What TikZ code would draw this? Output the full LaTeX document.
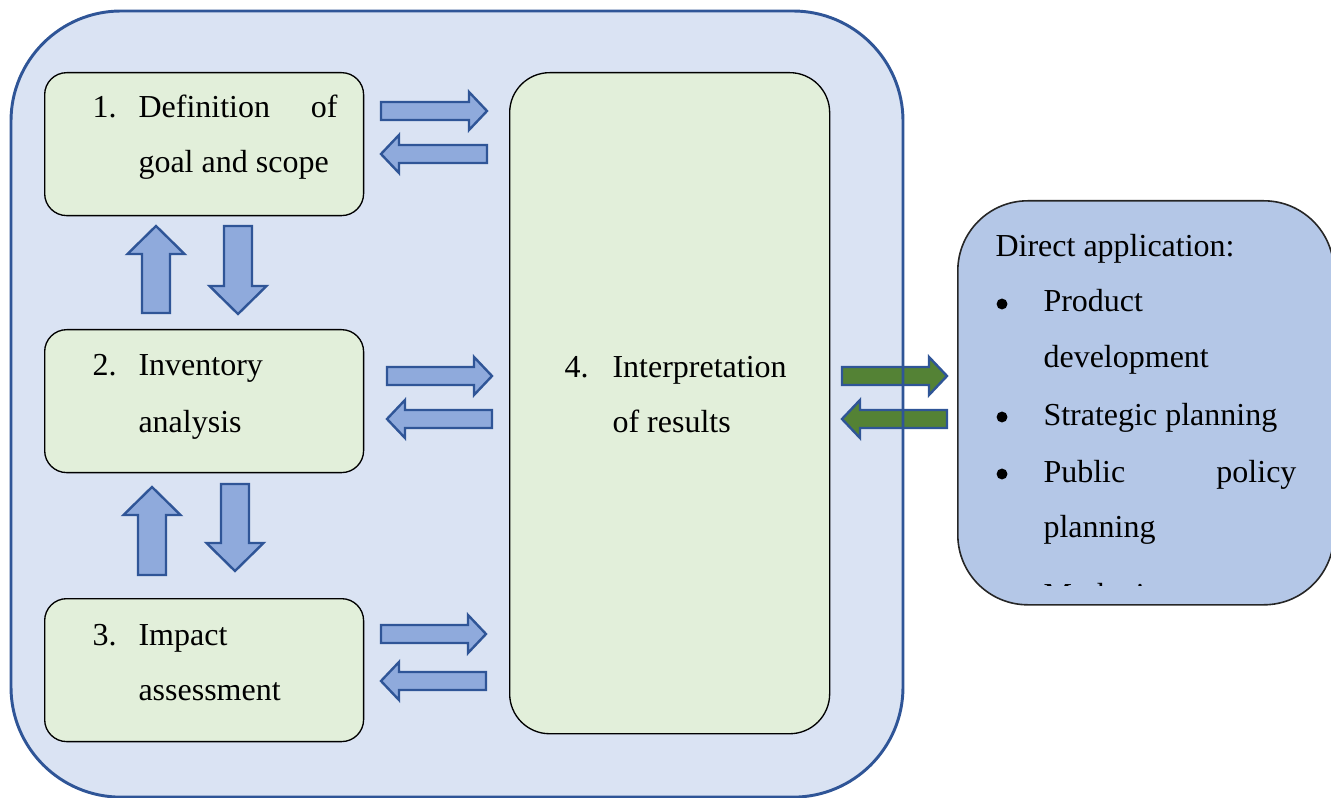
\documentclass[tikz,border=0pt]{standalone}
\usepackage{fontspec}
\setmainfont{Liberation Serif}
\usetikzlibrary{calc}
\definecolor{outerfill}{HTML}{DAE3F3}
\definecolor{outerline}{HTML}{2F5597}
\definecolor{boxfill}{HTML}{E2EFDA}
\definecolor{appfill}{HTML}{B4C7E7}
\definecolor{arrowfill}{HTML}{8FAADC}
\definecolor{greenfill}{HTML}{548235}
% style, from, to, shaft half width, head half width, head length
\newcommand\blockarrow[6]{%
  \coordinate (tmpH) at ($(#3)!#6!(#2)$);
  \draw[#1] ($(#2)!#4!90:(#3)$) -- ($(tmpH)!#4!90:(#3)$) -- ($(tmpH)!#5!90:(#3)$)
    -- (#3) -- ($(tmpH)!#5!-90:(#3)$) -- ($(tmpH)!#4!-90:(#3)$) -- ($(#2)!#4!-90:(#3)$) -- cycle;
}
\newcommand\harrow[3]{\blockarrow{#1}{#2}{#3}{3.375pt}{7.125pt}{6.75pt}}
\newcommand\varrow[3]{\blockarrow{#1}{#2}{#3}{5.25pt}{10.69pt}{10.5pt}}
\tikzset{
  stage/.style={draw=black, line width=0.5pt, fill=boxfill, rounded corners=8.25pt,
    anchor=north west, inner sep=0pt},
  outerbox/.style={fill=outerfill, rounded corners=41.25pt, anchor=north west, inner sep=0pt},
  appbox/.style={draw=black!85, line width=0.6pt, fill=appfill, rounded corners=26.25pt,
    anchor=north west, inner sep=0pt},
  bluearr/.style={fill=arrowfill, draw=outerline, line width=0.9pt, line join=miter},
  greenarr/.style={fill=greenfill, draw=outerline, line width=0.9pt, line join=miter},
  txt/.style={anchor=base west, inner sep=0pt},
  txtr/.style={anchor=base east, inner sep=0pt},
  bulletdot/.style={circle, fill=black, inner sep=0pt, minimum size=4.1pt},
}
\begin{document}
\begin{tikzpicture}[x=0.375pt, y=-0.375pt, font=\fontsize{12pt}{14pt}\selectfont]
\useasboundingbox (0,0) rectangle (1331,798);
% outer frame
\node[outerbox, minimum width=334.1pt, minimum height=294.4pt] (outer) at (11,11) {};
% green arrows (under the frame border)
\coordinate (g1s) at (842,376); \coordinate (g1e) at (947,376);
\coordinate (g2s) at (947,419); \coordinate (g2e) at (842,419);
\harrow{greenarr}{g1s}{g1e}
\harrow{greenarr}{g2s}{g2e}
\draw[outerline, line width=1.1pt, rounded corners=41.25pt] (outer.north west) rectangle (outer.south east);
% stage boxes
\node[stage, minimum width=119.6pt, minimum height=53.6pt] (b1) at (44,72) {};
\node[stage, minimum width=119.6pt, minimum height=53.6pt] (b2) at (44,329) {};
\node[stage, minimum width=119.6pt, minimum height=53.6pt] (b3) at (44,598) {};
\node[stage, minimum width=120pt, minimum height=247.9pt, rounded corners=15pt] (b4) at (509,72) {};
% application box
\node[appbox, minimum width=141pt, minimum height=151.5pt] (app) at (957,200) {};
% texts
\node[txt] (t1n) at (92,118) {1.};
\node[txt] (t1a) at (138,118) {Definition};
\node[txtr] (t1b) at (338,118) {of};
\node[txt] (t1c) at (138,173) {goal and scope};
\node[txt] (t2n) at (92,376) {2.};
\node[txt] (t2a) at (138,376) {Inventory};
\node[txt] (t2b) at (138,432) {analysis};
\node[txt] (t3n) at (92,645) {3.};
\node[txt] (t3a) at (138,645) {Impact};
\node[txt] (t3b) at (138,700) {assessment};
\node[txt] (t4n) at (564,377) {4.};
\node[txt] (t4a) at (612,377) {Interpretation};
\node[txt] (t4b) at (612,432) {of results};
\node[txt] (ta0) at (995,257) {Direct application:};
\node[bulletdot] (tb1) at (1002,304) {};
\node[txt] (ta1) at (1043,312) {Product};
\node[txt] (ta2) at (1043,368) {development};
\node[bulletdot] (tb2) at (1002,417) {};
\node[txt] (ta3) at (1043,425) {Strategic planning};
\node[bulletdot] (tb3) at (1002,474) {};
\node[txt] (ta4) at (1043,482) {Public};
\node[txtr] (ta5) at (1297,482) {policy};
\node[txt] (ta6) at (1043,537) {planning};
\begin{scope}
  \clip (957,560) rectangle (1331,585);
  \node[txt] (ta7) at (1043,605) {Marketing};
\end{scope}
% horizontal arrows
\coordinate (h1s) at (381,111); \coordinate (h1e) at (487,111);
\coordinate (h2s) at (487,154); \coordinate (h2e) at (381,154);
\coordinate (h3s) at (387,376); \coordinate (h3e) at (492,376);
\coordinate (h4s) at (492,419); \coordinate (h4e) at (387,419);
\coordinate (h5s) at (381,634); \coordinate (h5e) at (486,634);
\coordinate (h6s) at (486,681); \coordinate (h6e) at (381,681);
\harrow{bluearr}{h1s}{h1e}
\harrow{bluearr}{h2s}{h2e}
\harrow{bluearr}{h3s}{h3e}
\harrow{bluearr}{h4s}{h4e}
\harrow{bluearr}{h5s}{h5e}
\harrow{bluearr}{h6s}{h6e}
% vertical arrows
\coordinate (v1s) at (156,313); \coordinate (v1e) at (156,226);
\coordinate (v2s) at (238,226); \coordinate (v2e) at (238,314);
\coordinate (v3s) at (152,575); \coordinate (v3e) at (152,487);
\coordinate (v4s) at (235,484); \coordinate (v4e) at (235,571);
\varrow{bluearr}{v1s}{v1e}
\varrow{bluearr}{v2s}{v2e}
\varrow{bluearr}{v3s}{v3e}
\varrow{bluearr}{v4s}{v4e}
\end{tikzpicture}
\end{document}
